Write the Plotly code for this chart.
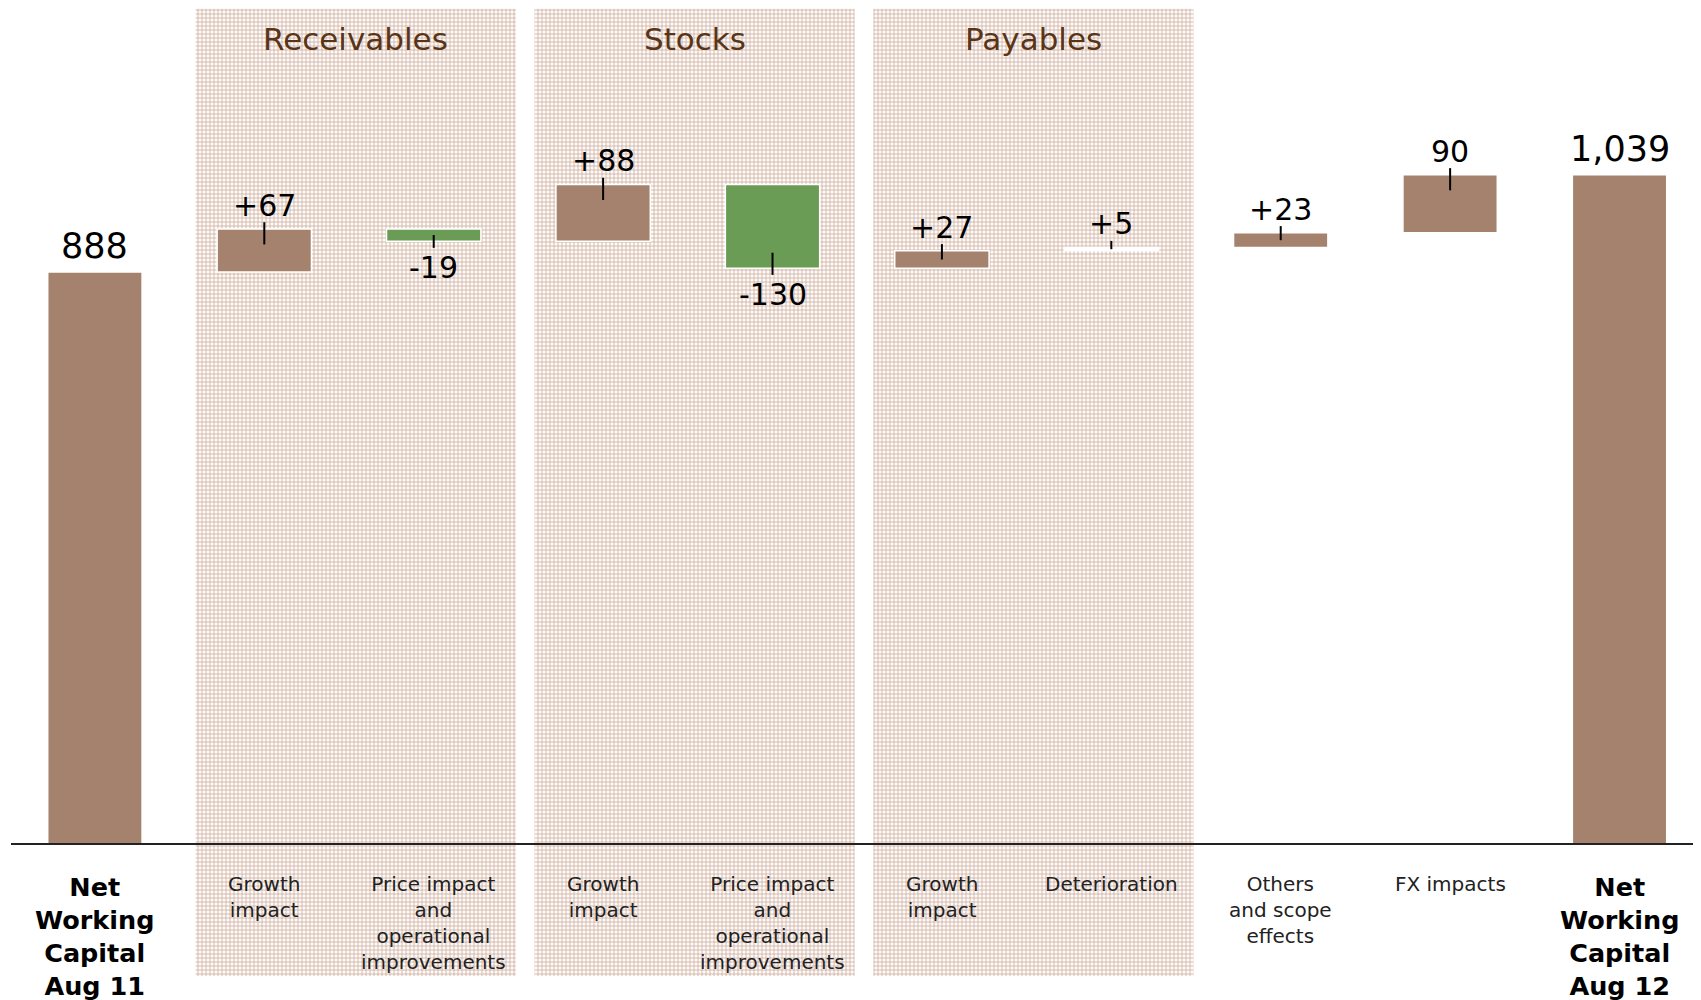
import plotly.graph_objects as go

# --- data ---
CATEGORIES = [
    "<b>Net<br>Working<br>Capital<br>Aug 11</b>",
    "Growth<br>impact",
    "Price impact<br>and<br>operational<br>improvements",
    "Growth<br>impact",
    "Price impact<br>and<br>operational<br>improvements",
    "Growth<br>impact",
    "Deterioration",
    "Others<br>and scope<br>effects",
    "FX impacts",
    "<b>Net<br>Working<br>Capital<br>Aug 12</b>",
]
VALUES = [888, 67, -19, 88, -130, 27, 5, 23, 90, 1039]
IS_TOTAL = [True, False, False, False, False, False, False, False, False, True]
VALUE_LABELS = ["888", "+67", "-19", "+88", "-130", "+27", "+5", "+23", "90", "1,039"]
GROUPS = ["Receivables", "Stocks", "Payables"]
GROUP_FIRST_BAR = [1, 3, 5]

# --- styles ---
BROWN = "#A4826D"
GREEN = "#6A9C55"
BAR_COLORS = [BROWN, BROWN, GREEN, BROWN, GREEN, BROWN, "#FFFFFF", BROWN, BROWN, BROWN]
TITLE_COLOR = "#5A3416"

# page body adds an 8px margin, so the figure is 8px smaller
W, H = 1693, 992
Y_MIN, Y_MAX = -242.2, 1298.0
PX = H / (Y_MAX - Y_MIN)          # pixels per data unit
X_MIN, X_MAX = -0.513, 9.481

# waterfall geometry from the values
bases, heights, running = [], [], 0
for v, tot in zip(VALUES, IS_TOTAL):
    if tot:
        bases.append(0)
        heights.append(v)
        running = v
    else:
        bases.append(running if v > 0 else running + v)
        heights.append(abs(v))
        running += v

xs = list(range(len(VALUES)))
fig = go.Figure()

# shaded group panels
for g, first in zip(GROUPS, GROUP_FIRST_BAR):
    x0, x1 = first - 0.405, first + 1.485
    y0, y1 = -205, 1297
    fig.add_trace(go.Bar(
        x=[(x0 + x1) / 2], y=[y1 - y0], base=[y0], width=[x1 - x0],
        marker=dict(
            color="#FFFFFF",
            line=dict(width=0),
            pattern=dict(shape="+", size=4, solidity=0.35,
                         fgcolor="#CCA897", bgcolor="#FDFBFA", fillmode="replace"),
        ),
        hoverinfo="skip", showlegend=False,
    ))
    fig.add_annotation(
        x=(x0 + x1) / 2, y=1 - 31 / H, xref="x", yref="paper",
        text=g, showarrow=False, yanchor="middle",
        font=dict(family="DejaVu Sans", size=31, color=TITLE_COLOR),
    )

# waterfall bars
fig.add_trace(go.Bar(
    x=xs, y=heights, base=bases, width=0.557,
    marker=dict(color=BAR_COLORS, line=dict(color="#FFFFFF", width=1.5)),
    hoverinfo="skip", showlegend=False,
))

# value ticks and labels
tx, ty = [], []
out_u = 6.7 / PX
for i, (v, tot) in enumerate(zip(VALUES, IS_TOTAL)):
    top = bases[i] + heights[i]
    bot = bases[i]
    if tot:
        fig.add_annotation(x=i, y=top, text=VALUE_LABELS[i], showarrow=False,
                           yanchor="bottom", yshift=4,
                           font=dict(family="DejaVu Sans", size=35, color="#000000"))
        continue
    inside = min(heights[i] / 2, 15.5 / PX)
    tx += [i, i, None]
    if v > 0:
        ty += [top + out_u, top - inside, None]
        fig.add_annotation(x=i, y=top, text=VALUE_LABELS[i], showarrow=False,
                           yanchor="bottom", yshift=4.2,
                           font=dict(family="DejaVu Sans", size=30, color="#000000"))
    else:
        ty += [bot - out_u, bot + inside, None]
        fig.add_annotation(x=i, y=bot, text=VALUE_LABELS[i], showarrow=False,
                           yanchor="top", yshift=-6.7,
                           font=dict(family="DejaVu Sans", size=30, color="#000000"))

fig.add_trace(go.Scatter(x=tx, y=ty, mode="lines",
                         line=dict(color="#000000", width=2),
                         hoverinfo="skip", showlegend=False))

# category labels
for i, lab in enumerate(CATEGORIES):
    bold = IS_TOTAL[i]
    fig.add_annotation(
        x=i, y=1 - 862 / H, xref="x", yref="paper",
        text=lab, showarrow=False, yanchor="top", align="center",
        font=dict(family="DejaVu Sans", size=25.5 if bold else 20,
                  color="#000000" if bold else "#222222"),
    )

# axis line
fig.add_shape(type="line", xref="paper", yref="y",
              x0=3 / W, x1=1, y0=0, y1=0,
              line=dict(color="#222222", width=2))

fig.update_layout(
    width=W, height=H,
    barmode="overlay",
    margin=dict(l=0, r=0, t=0, b=0),
    paper_bgcolor="#FFFFFF",
    plot_bgcolor="#FFFFFF",
    xaxis=dict(range=[X_MIN, X_MAX], visible=False, fixedrange=True),
    yaxis=dict(range=[Y_MIN, Y_MAX], visible=False, fixedrange=True),
    font=dict(family="DejaVu Sans", size=20, color="#000000"),
)

fig.write_html("out.html")
